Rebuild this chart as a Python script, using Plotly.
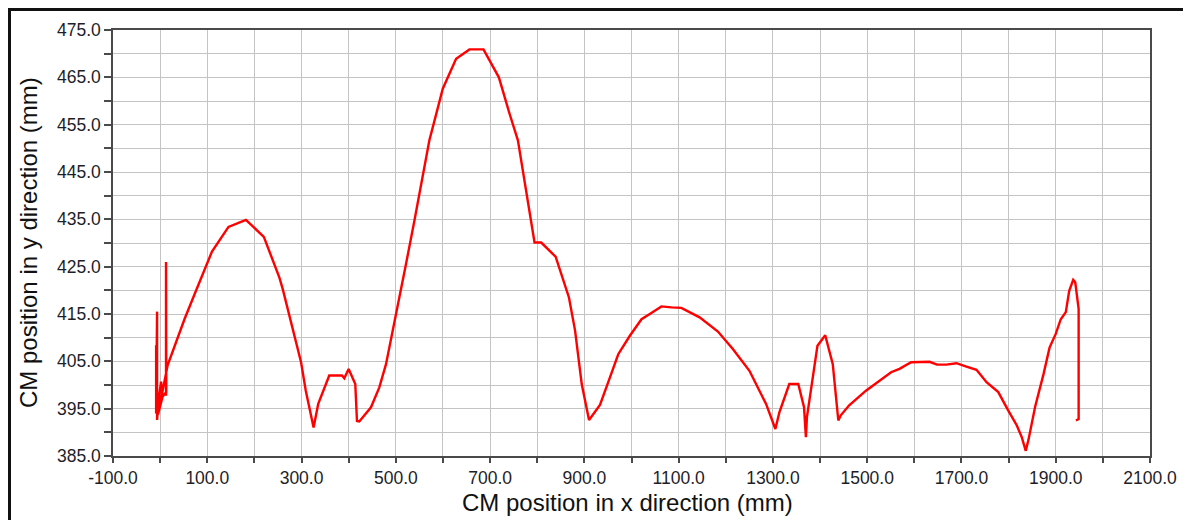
import plotly.graph_objects as go

x_mm = [-8.5, -8.5, -6.5, -6.5, -5, -1.5, 2, 4, 12.5, 12.5, 13, 5, -4.5, 16, 52, 78, 110, 145, 182,
        220, 253, 260, 299, 309, 325.5, 335.4, 358.8, 385.7, 390.7, 399.9, 414, 417.6, 422.5,
        447.3, 465, 479.2, 500.4, 521.7, 539.4, 557.1, 571.2, 584, 599.6, 627.9, 656.2, 686,
        718.6, 741.3, 759, 794.3, 808.5, 839, 867.3, 880.3, 894.4, 909.9, 933.1, 954.3, 971.9,
        996.5, 1021.2, 1038.8, 1063.5, 1084.6, 1105.7, 1144.5, 1183.3, 1215, 1250.2, 1285.5,
        1305.2, 1313.7, 1334.8, 1353.8, 1366, 1370, 1372.2, 1394.5, 1411, 1427, 1438.8, 1444,
        1461.8, 1497.4, 1525.8, 1550.7, 1568.5, 1593.3, 1632.4, 1648, 1668, 1689.3, 1710.6,
        1731.9, 1753.2, 1778.1, 1799.4, 1817.2, 1827.9, 1836.4, 1842.1, 1856.3, 1874.1, 1886.9,
        1900, 1910.7, 1921.4, 1928.6, 1937.1, 1941.4, 1948.6, 1948.6, 1942.9]
y_mm = [408.4, 394.0, 415.5, 392.6, 394.5, 398.2, 400.7, 398.0, 398.0, 426.0, 398.5, 397.5, 393.8,
        404.2, 414.0, 420.4, 428.2, 433.4, 434.9, 431.3, 422.7, 420.3, 404.8, 398.8, 391.0, 396.0,
        402.0, 402.0, 401.4, 403.4, 400.2, 392.4, 392.3, 395.3, 399.5, 404.4, 414.6, 425.6, 434.7,
        443.9, 451.7, 456.6, 462.6, 468.9, 470.9, 470.9, 465.0, 457.3, 451.7, 430.1, 430.1, 427.1,
        418.5, 411.5, 400.2, 392.6, 395.8, 401.6, 406.5, 410.4, 413.9, 415.0, 416.6, 416.4, 416.3,
        414.3, 411.3, 407.6, 403.0, 396.0, 390.7, 394.2, 400.2, 400.2, 395.3, 389.0, 393.2, 408.3,
        410.5, 404.4, 392.5, 393.6, 395.7, 398.8, 400.9, 402.7, 403.4, 404.8, 404.9, 404.3, 404.3,
        404.6, 403.9, 403.2, 400.6, 398.5, 394.6, 391.5, 389.0, 386.1, 388.4, 395.4, 402.3, 407.9,
        410.8, 413.9, 415.4, 419.9, 422.2, 421.7, 416.1, 392.8, 392.5]

x_ticks = [-100, 100, 300, 500, 700, 900, 1100, 1300, 1500, 1700, 1900, 2100]
y_ticks = [385, 395, 405, 415, 425, 435, 445, 455, 465, 475]
x_title = "CM position in x direction (mm)"
y_title = "CM position in y direction (mm)"

# page has an 8px body margin, so the figure is sized/offset to compensate
W, H = 1183, 512
L, R, T, B = 105, 41, 22, 64
PW, PH = W - L - R, H - T - B

fig = go.Figure()
fig.add_trace(go.Scatter(x=x_mm, y=y_mm, mode="lines",
                         line=dict(color="#ff0000", width=2.4), showlegend=False))

grid = "#c4c4c4"
axcol = "#4a4a4a"
font_fam = "Liberation Sans, Arial, sans-serif"
tickfont = dict(family=font_fam, size=17.5, color="#1e1e28")
fig.update_xaxes(range=[-100, 2100], tickvals=x_ticks, ticktext=[f"{v:.1f}" for v in x_ticks],
                 showgrid=True, gridcolor=grid, gridwidth=1,
                 ticks="outside", ticklen=5, tickcolor=axcol, tickwidth=1.5,
                 minor=dict(dtick=100, tick0=0, ticks="outside", ticklen=5, tickcolor=axcol,
                            showgrid=True, gridcolor=grid, gridwidth=1),
                 showline=True, linecolor=axcol, linewidth=1.5, mirror=True,
                 zeroline=False, tickfont=tickfont)
fig.update_yaxes(range=[385, 475], tickvals=y_ticks, ticktext=[f"{v:.1f}" for v in y_ticks],
                 showgrid=True, gridcolor=grid, gridwidth=1,
                 ticks="outside", ticklen=7, tickcolor=axcol, tickwidth=1.5,
                 minor=dict(dtick=5, tick0=385, ticks="outside", ticklen=7, tickcolor=axcol,
                            showgrid=True, gridcolor=grid, gridwidth=1),
                 showline=True, linecolor=axcol, linewidth=1.5, mirror=True,
                 zeroline=False, tickfont=tickfont)

titlefont = dict(family=font_fam, size=24, color="#111111")
fig.add_annotation(text=x_title, xref="paper", yref="paper",
                   x=(619.5 - L) / PW, y=(PH - 494 + T) / PH,
                   xanchor="center", yanchor="middle", showarrow=False, font=titlefont)
fig.add_annotation(text=y_title, xref="paper", yref="paper",
                   x=(20 - L) / PW, y=0.5, textangle=-90,
                   xanchor="center", yanchor="middle", showarrow=False, font=titlefont)

fig.add_shape(type="rect", xref="paper", yref="paper",
              x0=(1.5 - L) / PW, x1=(1179 - L) / PW,
              y0=(T + PH - 540) / PH, y1=(T + PH - 1.5) / PH,
              line=dict(color="#111111", width=3), layer="above")

fig.update_layout(width=W, height=H, margin=dict(l=L, r=R, t=T, b=B, autoexpand=False),
                  paper_bgcolor="white", plot_bgcolor="white")
fig.write_html("out.html")
